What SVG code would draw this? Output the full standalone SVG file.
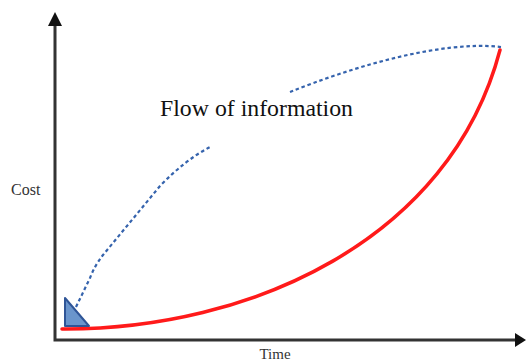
<svg xmlns="http://www.w3.org/2000/svg" width="526" height="363" viewBox="0 0 526 363">
<style>
.axis{stroke:#333;stroke-width:3;fill:none}
.head{fill:#111}
.info{stroke:#3563ad;stroke-width:2.2;stroke-dasharray:3.5 2.8;fill:none}
.cost{stroke:#ff1a1a;stroke-width:3.5;fill:none;stroke-linecap:round}
.lbl{font-family:"Liberation Serif","Times New Roman",serif;fill:#333}
</style>
<rect width="526" height="363" fill="#fff"/>
<g id="axes">
<path class="axis" d="M55,24 L55,340 L516,340"/>
<polygon class="head" points="55,12 48,26 62,26"/>
<polygon class="head" points="526,340 515,333 515,347"/>
</g>
<g id="connectors">
<path class="info" d="M76,307 L90,278 Q95,265 103,255 L160,186 Q185,160 210,147"/>
<path class="info" d="M290,92 C350,68 440,40 501,47"/>
</g>
<g id="cost-curve">
<path class="cost" d="M62,329 C250,330 450,240 500,50"/>
</g>
<g id="triangle">
<polygon points="65,298 65,326 89,326" fill="#6a95cc" stroke="#2f5597" stroke-width="2" stroke-linejoin="round"/>
</g>
<g id="label-flow">
<text class="lbl" x="160" y="116" font-size="23.8" fill="#111" style="fill:#111">Flow of information</text>
</g>
<g id="label-cost">
<text class="lbl" x="11" y="195" font-size="16">Cost</text>
</g>
<g id="label-time">
<text class="lbl" x="275" y="359" font-size="15" text-anchor="middle">Time</text>
</g>
</svg>
